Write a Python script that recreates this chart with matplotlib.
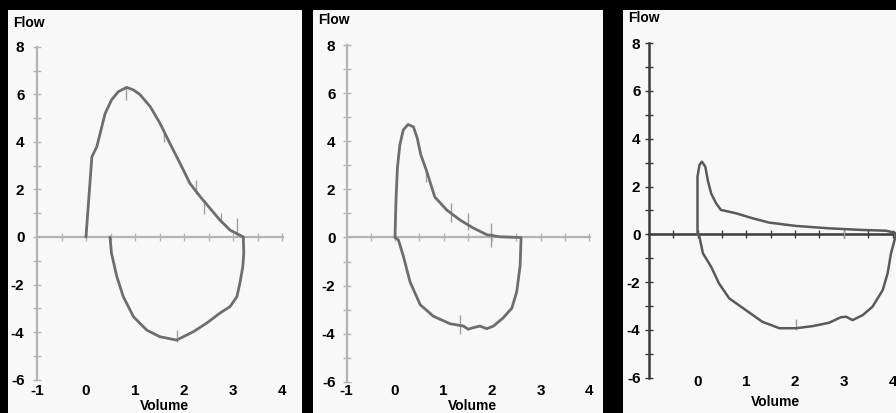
import numpy as np
import matplotlib.pyplot as plt
from matplotlib import transforms

plt.rcParams['font.family'] = ['Liberation Sans', 'DejaVu Sans']
plt.rcParams['axes.unicode_minus'] = False

# ---- data read off the three flow-volume loops ----
# panel 1 (normal)
p1_exp_vol = [0.00, 0.03, 0.08, 0.12, 0.22, 0.29, 0.39, 0.52, 0.66, 0.83, 0.97, 1.10,
              1.31, 1.51, 1.71, 1.92, 2.12, 2.33, 2.53, 2.73, 2.94, 3.11, 3.21]
p1_exp_flow = [0.00, 0.86, 2.26, 3.38, 3.80, 4.37, 5.20, 5.77, 6.12, 6.30, 6.19, 6.00,
               5.49, 4.79, 3.95, 3.10, 2.26, 1.70, 1.21, 0.72, 0.29, 0.11, 0.00]
p1_insp_vol = [3.21, 3.22, 3.20, 3.14, 3.08, 2.94, 2.73, 2.46, 2.19, 1.85, 1.51, 1.24,
               0.97, 0.76, 0.63, 0.52, 0.49]
p1_insp_flow = [0.00, -0.69, -1.25, -1.95, -2.51, -2.93, -3.21, -3.63, -3.99, -4.34, -4.20,
                -3.92, -3.36, -2.51, -1.67, -0.69, 0.00]
p1_mark_vol = [0.82, 1.60, 2.24, 2.41, 2.75, 3.09, 1.85]
p1_mark_lo = [5.75, 4.00, 1.80, 0.95, 0.60, 0.00, -4.40]
p1_mark_hi = [6.30, 4.40, 2.40, 1.55, 1.00, 0.80, -3.90]

# panel 2 (obstructive)
p2_exp_vol = [0.00, 0.02, 0.05, 0.10, 0.17, 0.27, 0.38, 0.46, 0.53, 0.65, 0.82, 1.07,
              1.34, 1.61, 1.89, 2.16, 2.58]
p2_exp_flow = [0.00, 1.55, 2.91, 3.86, 4.48, 4.71, 4.61, 4.13, 3.46, 2.78, 1.69, 1.14,
               0.73, 0.40, 0.12, 0.03, 0.00]
p2_insp_vol = [2.60, 2.58, 2.51, 2.41, 2.23, 2.03, 1.89, 1.75, 1.61, 1.51, 1.41, 1.13,
               0.79, 0.52, 0.31, 0.17, 0.07, 0.00]
p2_insp_flow = [0.00, -1.17, -2.26, -2.94, -3.35, -3.69, -3.80, -3.69, -3.76, -3.82, -3.69,
                -3.59, -3.28, -2.80, -1.85, -0.76, -0.10, 0.00]
p2_mark_vol = [0.64, 1.15, 1.50, 1.97, 1.35]
p2_mark_lo = [2.30, 0.66, 0.31, -0.38, -4.00]
p2_mark_hi = [2.95, 1.45, 1.00, 0.59, -3.23]

# panel 3 (severe obstruction)
p3_exp_vol = [0.00, 0.00, 0.00, 0.00, 0.04, 0.09, 0.16, 0.21, 0.28, 0.38, 0.48, 0.79,
              1.13, 1.47, 2.02, 2.70, 3.39, 3.87, 4.07]
p3_exp_flow = [0.00, 0.74, 1.71, 2.41, 2.90, 3.04, 2.83, 2.27, 1.71, 1.30, 1.02, 0.88,
               0.67, 0.49, 0.35, 0.25, 0.18, 0.15, 0.05]
p3_insp_vol = [4.07, 3.97, 3.90, 3.80, 3.59, 3.39, 3.18, 3.05, 2.94, 2.70, 2.37, 2.02,
               1.68, 1.33, 0.99, 0.65, 0.44, 0.28, 0.11, 0.03]
p3_insp_flow = [-0.03, -0.79, -1.63, -2.33, -3.03, -3.38, -3.59, -3.45, -3.47, -3.70, -3.84,
                -3.93, -3.93, -3.66, -3.17, -2.68, -2.05, -1.36, -0.79, 0.00]
p3_mark_vol = [2.02, 3.01]
p3_mark_lo = [-4.00, -0.17]
p3_mark_hi = [-3.55, 0.18]

y_major = [-6, -4, -2, 0, 2, 4, 6, 8]
y_minor = [-5, -3, -1, 1, 3, 5, 7]
x_labels = ['-1', '0', '1', '2', '3', '4']

W, H = 896, 413


def draw_panel(fig, box, scale, exp, insp, marks, axis_color, line_color,
               axis_lw, line_lw, label_row, name_row, flow_row, show_minus_one, ypad):
    left, right, top = box
    x0, sx, y0, sy = scale
    ax = fig.add_axes([left / W, 0, (right - left) / W, (H - top) / H])
    ax.set_facecolor('#f8f8f8')
    ax.set_xlim((left - x0) / sx, (right - x0) / sx)
    ax.set_ylim((y0 - H) / sy, (y0 - top) / sy)

    for s in ['top', 'right']:
        ax.spines[s].set_visible(False)
    ax.spines['left'].set_position(('data', -1))
    ax.spines['bottom'].set_position(('data', 0))
    ax.spines['left'].set_bounds(-6, 8)
    ax.spines['bottom'].set_bounds(-1, 4.02)
    for s in ['left', 'bottom']:
        ax.spines[s].set_color(axis_color)
        ax.spines[s].set_linewidth(axis_lw)
        ax.spines[s].set_zorder(1)

    ax.set_yticks(y_major)
    ax.set_yticks(y_minor, minor=True)
    ax.set_xticks(np.arange(-0.5, 4.01, 0.5))
    ax.tick_params(which='both', direction='inout', length=6, width=1, color=axis_color)
    ax.tick_params(axis='x', labelbottom=False)
    ax.tick_params(axis='y', labelsize=11, pad=ypad)
    for lbl in ax.get_yticklabels():
        lbl.set_fontweight('bold')

    ax.vlines(marks[0], marks[1], marks[2], color='#a0a0a0', lw=1, zorder=2)
    ax.plot(exp[0], exp[1], color=line_color, lw=line_lw, zorder=3,
            solid_joinstyle='round', solid_capstyle='round')
    ax.plot(insp[0], insp[1], color=line_color, lw=line_lw, zorder=3,
            solid_joinstyle='round', solid_capstyle='round')

    trans = transforms.blended_transform_factory(ax.transData, ax.transAxes)
    row = lambda p: (H - p) / (H - top)
    for i, lab in enumerate(x_labels):
        if i == 0 and not show_minus_one:
            continue
        ax.text(i - 1, row(label_row), lab, transform=trans, ha='center', va='center',
                fontsize=11, fontweight='bold')
    ax.text(1.6, row(name_row), 'Volume', transform=trans, ha='center', va='center',
            fontsize=10, fontweight='bold')
    ax.text(5 / (right - left), row(flow_row), 'Flow', transform=ax.transAxes,
            ha='left', va='center', fontsize=10, fontweight='bold')
    return ax


fig = plt.figure(figsize=(W / 100, H / 100), dpi=100)
fig.patch.set_facecolor('black')

draw_panel(fig, (8, 302, 10), (86, 49, 237, 23.75),
           (p1_exp_vol, p1_exp_flow), (p1_insp_vol, p1_insp_flow),
           (p1_mark_vol, p1_mark_lo, p1_mark_hi),
           '#b4b4b4', '#6e6e6e', 1.6, 2.0, 391, 406, 23, True, 6)
draw_panel(fig, (313, 603, 10), (395, 48.5, 237.5, 24),
           (p2_exp_vol, p2_exp_flow), (p2_insp_vol, p2_insp_flow),
           (p2_mark_vol, p2_mark_lo, p2_mark_hi),
           '#b4b4b4', '#6e6e6e', 1.6, 2.0, 391, 406, 20, True, 5)
draw_panel(fig, (623, 896, 10), (697.5, 48.75, 234.3, 23.9),
           (p3_exp_vol, p3_exp_flow), (p3_insp_vol, p3_insp_flow),
           (p3_mark_vol, p3_mark_lo, p3_mark_hi),
           '#3c3c3c', '#5a5a5a', 1.8, 1.8, 382, 402, 18, False, 3)

fig.savefig('out.png', dpi=100, facecolor=fig.get_facecolor())
